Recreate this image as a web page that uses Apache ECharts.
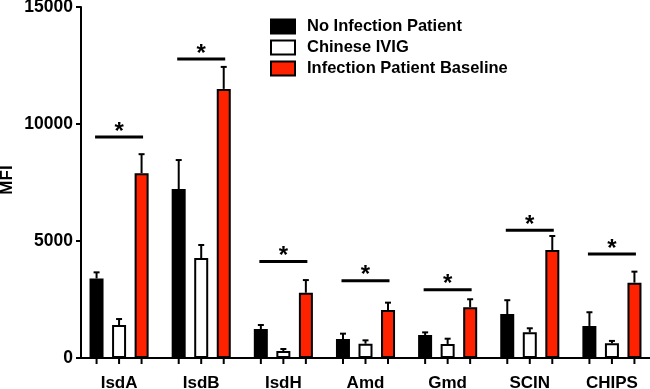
<!DOCTYPE html>
<html><head><meta charset="utf-8">
<script src="https://cdn.jsdelivr.net/npm/echarts@6/dist/echarts.min.js"></script>
<style>html,body{margin:0;padding:0;background:#fff}#c{width:650px;height:389px}</style>
</head><body><div id="c"></div>
<script>
const categories = ['IsdA','IsdB','IsdH','Amd','Gmd','SCIN','CHIPS'];
const seriesNames = ['No Infection Patient','Chinese IVIG','Infection Patient Baseline'];
const noInfection = [3400, 7220, 1240, 810, 980, 1880, 1370];
const noInfectionErr = [260, 1240, 170, 230, 115, 590, 585];
const chineseIVIG = [1410, 4270, 300, 610, 600, 1100, 630];
const chineseIVIGErr = [255, 560, 85, 145, 225, 170, 100];
const infectionBaseline = [7900, 11500, 2790, 2050, 2170, 4615, 3220];
const infectionBaselineErr = [810, 940, 540, 315, 340, 600, 470];
const sigLevels = [9440, 12780, 4120, 3300, 2920, 5460, 4445];
const yTicks = [0, 5000, 10000, 15000];
const yTitle = 'MFI';

const FONT = '"Liberation Sans", Arial, Helvetica, sans-serif';
const colors = ['#000000', '#ffffff', '#ff2200'];
const values = [noInfection, chineseIVIG, infectionBaseline];
const errs = [noInfectionErr, chineseIVIGErr, infectionBaselineErr];
const offsets = [-22.5, 0, 22.5];

const chart = echarts.init(document.getElementById('c'));
const series = [];
seriesNames.forEach((name, s) => {
  series.push({
    name, type: 'bar', data: values[s], barWidth: 14, barGap: '61%',
    itemStyle: {color: colors[s], borderColor: '#000', borderWidth: 2},
    z: 3
  });
});
seriesNames.forEach((name, s) => {
  series.push({
    type: 'custom', silent: true, z: 2,
    data: values[s].map((v, i) => [i, v, errs[s][i]]),
    renderItem: (params, api) => {
      const i = api.value(0), v = api.value(1), e = api.value(2);
      const p = api.coord([i, v]);
      const t = api.coord([i, v + e]);
      const b = api.coord([i, 0]);
      const x = p[0] + offsets[s];
      return {type: 'group', children: [
        {type: 'line', shape: {x1: x, y1: p[1], x2: x, y2: t[1]}, style: {stroke: '#000', lineWidth: 2}},
        {type: 'line', shape: {x1: x - 3, y1: t[1], x2: x + 3, y2: t[1]}, style: {stroke: '#000', lineWidth: 2}},
        {type: 'line', shape: {x1: x, y1: b[1], x2: x, y2: b[1] + 6}, style: {stroke: '#000', lineWidth: 2}}
      ]};
    }
  });
});
series.push({
  type: 'custom', silent: true, z: 4,
  data: sigLevels.map((v, i) => [i, v]),
  renderItem: (params, api) => {
    const p = api.coord([api.value(0), api.value(1)]);
    return {type: 'group', children: [
      {type: 'line', shape: {x1: p[0] - 24, y1: p[1], x2: p[0] + 24, y2: p[1]}, style: {stroke: '#000', lineWidth: 3}},
      {type: 'text', style: {text: '*', x: p[0], y: p[1] + 7, align: 'center', verticalAlign: 'bottom', font: 'bold 24px ' + FONT, fill: '#000'}}
    ]};
  }
});

chart.setOption({
  animation: false,
  grid: {left: 78, top: 7, width: 575, height: 351, containLabel: false, outerBoundsMode: 'none'},
  legend: {
    data: seriesNames, orient: 'vertical', left: 270, top: 18, padding: 0,
    icon: 'rect', itemWidth: 24, itemHeight: 14, itemGap: 4,
    textStyle: {fontFamily: FONT, fontWeight: 'bold', fontSize: 16.5, color: '#000', lineHeight: 14, padding: [0, 0, 0, 7]}
  },
  graphic: [{
    type: 'text', x: 7, y: 180, rotation: Math.PI / 2,
    style: {text: yTitle, font: 'bold 17px ' + FONT, fill: '#000', align: 'center', verticalAlign: 'middle'}
  }],
  xAxis: {
    type: 'category', data: categories,
    axisLine: {lineStyle: {color: '#000', width: 2}},
    axisTick: {show: false},
    axisLabel: {fontFamily: FONT, fontWeight: 'bold', fontSize: 17, color: '#000', margin: 17}
  },
  yAxis: {
    type: 'value', min: 0, max: 15000, interval: 5000, offset: -3,
    axisLine: {show: true, lineStyle: {color: '#000', width: 2}},
    axisTick: {show: true, length: 5, lineStyle: {color: '#000', width: 2}},
    axisLabel: {fontFamily: FONT, fontWeight: 'bold', fontSize: 17.5, color: '#000', margin: 8, formatter: v => yTicks.includes(v) ? String(v) : ''},
    splitLine: {show: false}
  },
  series
});
</script></body></html>
